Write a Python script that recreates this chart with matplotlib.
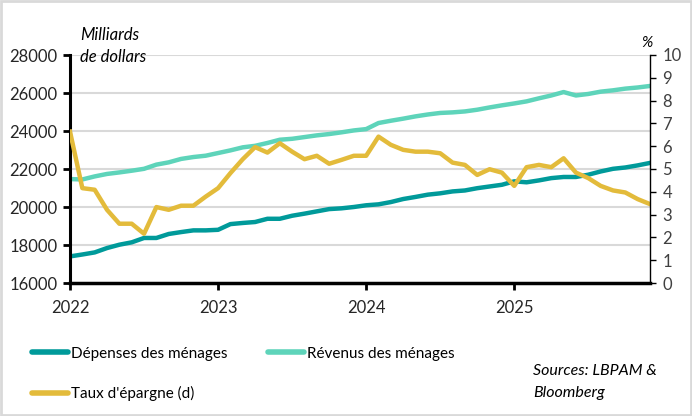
import matplotlib
matplotlib.use("Agg")
import matplotlib.pyplot as plt
from matplotlib.lines import Line2D
from matplotlib.patches import Rectangle

plt.rcParams['font.family'] = ['Lato', 'DejaVu Sans']

# donnees mensuelles, janv. 2022 -> dec. 2025
mois = list(range(48))
annees = ['2022', '2023', '2024', '2025']
pos_annees = [0, 12, 24, 36]

depenses = [17400, 17500, 17610, 17840, 18015, 18140, 18370, 18370, 18580, 18680,
            18770, 18770, 18800, 19100, 19160, 19210, 19380, 19380, 19540, 19650,
            19770, 19890, 19930, 20000, 20090, 20140, 20260, 20420, 20530, 20650,
            20720, 20820, 20870, 20990, 21080, 21170, 21350, 21300, 21400, 21520,
            21580, 21580, 21700, 21870, 22010, 22080, 22190, 22320]

revenus = [21470, 21450, 21610, 21740, 21820, 21910, 22010, 22230, 22350, 22530,
           22630, 22700, 22840, 22980, 23140, 23220, 23370, 23540, 23590, 23680,
           23770, 23840, 23930, 24030, 24100, 24420, 24540, 24650, 24770, 24870,
           24950, 24980, 25030, 25120, 25240, 25350, 25450, 25560, 25720, 25870,
           26050, 25870, 25950, 26070, 26140, 26230, 26290, 26370]

epargne = [6.64, 4.16, 4.09, 3.21, 2.6, 2.6, 2.16, 3.33, 3.21, 3.39,
           3.39, 3.79, 4.16, 4.82, 5.43, 5.96, 5.72, 6.13, 5.76, 5.43,
           5.58, 5.23, 5.40, 5.58, 5.58, 6.42, 6.06, 5.84, 5.76, 5.76,
           5.69, 5.28, 5.18, 4.74, 4.99, 4.84, 4.26, 5.08, 5.18, 5.08,
           5.47, 4.84, 4.6, 4.26, 4.06, 3.97, 3.68, 3.46]

c_dep = '#009A9A'
c_rev = '#5ED4BA'
c_ep = '#E3BB3B'

fig = plt.figure(figsize=(6.92, 4.16), dpi=100)
ax = fig.add_axes([70/692, 1-283/416, 580/692, 228/416])
ax2 = ax.twinx()

ax.plot(mois, depenses, color=c_dep, lw=3.2)
ax.plot(mois, revenus, color=c_rev, lw=3.2)
ax2.plot(mois, epargne, color=c_ep, lw=3.2)

ax.set_xlim(0, 47)
ax.set_ylim(16000, 28000)
ax.set_yticks(range(16000, 28001, 2000))
ax2.set_ylim(0, 10)
ax2.set_yticks(range(0, 11))

for v in range(18000, 28001, 2000):
    ax.axhline(v, color='#d9d9d9', lw=1.5, zorder=0)

ax.set_xticks(pos_annees)
ax.set_xticklabels(annees)

for a in (ax, ax2):
    a.spines['top'].set_visible(False)
ax.spines['left'].set_linewidth(2.2)
ax.spines['bottom'].set_linewidth(2.5)
ax.spines['right'].set_visible(False)
ax2.spines['left'].set_visible(False)
ax2.spines['bottom'].set_visible(False)
ax2.spines['right'].set_linewidth(1.0)

ax.tick_params(axis='y', direction='out', length=5, width=2, labelsize=12, colors='black', labelcolor='#262626', pad=4)
ax.tick_params(axis='x', direction='out', length=5, width=2, labelsize=12, labelcolor='#262626', pad=7)
ax2.tick_params(axis='y', direction='out', length=4, width=1, labelsize=12, labelcolor='#404040', pad=5)

fig.text(80/692, 1-35/416, 'Milliards', style='italic', fontsize=12, va='center')
fig.text(80/692, 1-57/416, 'de dollars', style='italic', fontsize=12, va='center')
fig.text(647/692, 1-43/416, '%', style='italic', fontsize=11, va='center', ha='center')

handles = [Line2D([], [], color=c_dep, lw=4, solid_capstyle='round'),
           Line2D([], [], color=c_ep, lw=4, solid_capstyle='round'),
           Line2D([], [], color=c_rev, lw=4, solid_capstyle='round')]
labels = ['Dépenses des ménages', "Taux d'épargne (d)", 'Révenus des ménages']
fig.legend(handles, labels, ncol=2, loc='upper left', bbox_to_anchor=(18/692, 1-333/416),
           frameon=False, fontsize=11, handlelength=2.4, handletextpad=0.2,
           columnspacing=2.6, labelspacing=1.65)

fig.text(533/692, 1-371/416, 'Sources: LBPAM &', style='italic', fontsize=11.5, va='center')
fig.text(533/692, 1-393/416, 'Bloomberg', style='italic', fontsize=11.5, va='center')

fig.patches.append(Rectangle((0.002, 0.003), 0.996, 0.994, transform=fig.transFigure,
                             fill=False, edgecolor='#d9d9d9', lw=2))

fig.savefig('out.png', dpi=100)
